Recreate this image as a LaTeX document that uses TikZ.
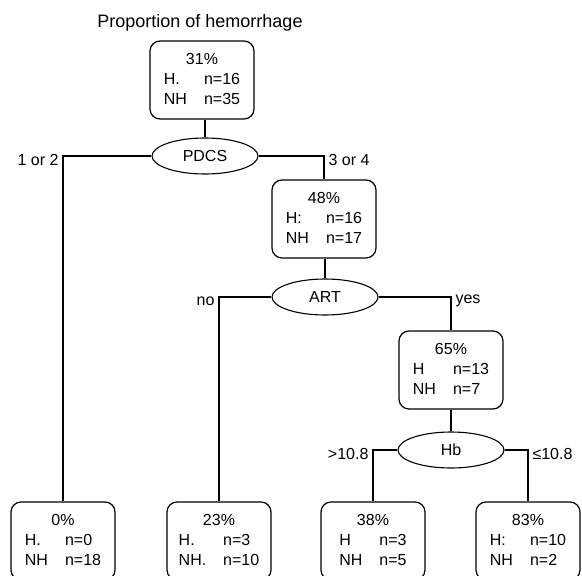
\documentclass[tikz,border=0pt]{standalone}
\usepackage{fontspec}
\setmainfont{Liberation Sans}
\usetikzlibrary{shapes.geometric}

\newcommand{\countbox}[5]{%
  \begin{tabular}{@{}l@{\hspace{17pt}}l@{}}
    \multicolumn{2}{c}{#1\%}\\
    #2 & n=#3\\
    #4 & n=#5
  \end{tabular}}

\begin{document}
\begin{tikzpicture}
[x=1pt, y=-1pt,
  every node/.style={font=\fontsize{16}{20}\selectfont},
  boxdecorate/.style={shape=rectangle,rounded corners=10pt,draw,line width=1.2pt,
    minimum width=104pt,minimum height=78pt,inner sep=0pt},
  splitdecorate/.style={shape=ellipse,draw,line width=1.1pt,
    minimum width=106pt,minimum height=36pt,inner sep=0pt},
  linedecorate/.style={-,line width=1.1pt},
  labeldecorate/.style={yshift=-4pt,inner sep=4pt}]
\useasboundingbox (0,0) rectangle (582,576);
\node (title) at (200,23) [font=\fontsize{18}{22}\selectfont] {Proportion of hemorrhage};
%% boxes with counts
\foreach \nodename/\x/\y/\pct/\hh/\hn/\nh/\nhn in {root/202/80/31/H./16/NH/35,
  n48/324/219/48/H:/16/NH/17, n65/451/370/65/H/13/NH/7,
  n0/63/541/0/H./0/NH/18, n23/219/541/23/H./3/NH./10,
  n38/373/541/38/H/3/NH/5, n83/528/541/83/H:/10/NH/2}
{
  \node (\nodename) at (\x,\y) [boxdecorate] {\countbox{\pct}{\hh}{\hn}{\nh}{\nhn}};
}
%% splitting variables
\foreach \nodename/\x/\y/\var in {pdcs/205/156/PDCS, art/325/297/ART, hb/451/450/Hb}
{
  \node (\nodename) at (\x,\y) [splitdecorate] {\var};
}
%% edges or lines
\foreach \parent/\child in {root/pdcs, n48/art, n65/hb}
{
  \draw[linedecorate] (\parent.south -| \child.north) -- (\child.north);
}
\foreach \startnode/\endnode/\side/\lab in {pdcs.west/n0/left/1 or 2,
  pdcs.east/n48/right/3 or 4, art.west/n23/left/no, art.east/n65/right/yes,
  hb.west/n38/left/>10.8, hb.east/n83/right/≤10.8}
{
  \draw[linedecorate] (\startnode) -| node[\side,labeldecorate] {\lab} (\endnode.north);
}
\end{tikzpicture}
\end{document}
